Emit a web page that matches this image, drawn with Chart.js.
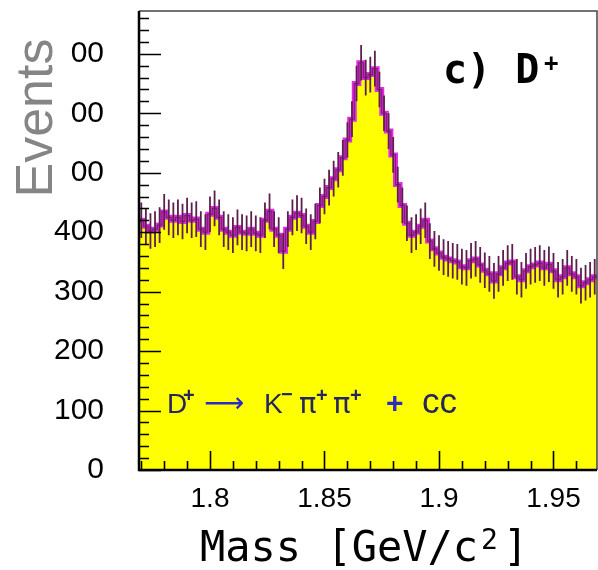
<!DOCTYPE html>
<html>
<head>
<meta charset="utf-8">
<script src="https://cdn.jsdelivr.net/npm/chart.js@4"></script>
<style>
  html, body { margin: 0; padding: 0; background: #fff; }
</style>
</head>
<body>
<canvas id="massChart" width="598" height="570"></canvas>
<script>
// histogram range and binning (GeV/c^2)
const MASS_MIN = 1.769;
const MASS_MAX = 1.969;
const BIN_WIDTH = 0.002;
const Y_MAX = 772;

// events per bin
const counts = [
  420, 410, 402, 405, 412, 434, 425, 420, 425, 418,
  428, 420, 422, 405, 400, 430, 440, 425, 405, 400,
  395, 408, 400, 398, 405, 398, 395, 420, 435, 405,
  395, 368, 405, 425, 432, 428, 410, 400, 418, 445,
  460, 475, 490, 505, 525, 555, 590, 650, 685, 660,
  665, 675, 640, 600, 570, 530, 480, 445, 415, 395,
  400, 410, 420, 385, 372, 365, 358, 355, 352, 350,
  342, 340, 352, 355, 345, 336, 330, 318, 330, 340,
  348, 350, 325, 320, 335, 342, 345, 348, 340, 346,
  335, 320, 325, 340, 330, 325, 310, 315, 320, 325
];
const ERROR_HALF = 30;

const xTicks = [1.8, 1.85, 1.9, 1.95];
const xTickLabels = ["1.8", "1.85", "1.9", "1.95"];
const yTicks = [0, 100, 200, 300, 400, 500, 600, 700];
const yTickLabels = ["0", "100", "200", "300", "400", "00", "00", "00"];

const centers = counts.map((_, i) => MASS_MIN + (i + 0.5) * BIN_WIDTH);
const stepPoints = [{ x: MASS_MIN, y: counts[0] }]
  .concat(counts.map((c, i) => ({ x: centers[i], y: c })))
  .concat([{ x: MASS_MAX, y: counts[counts.length - 1] }]);

// decay label pieces: text, x, baseline, font, colour
const DARK = "#26265e";
const BLUE = "#2a2ac8";
const decayLabel = [
  ["D", 167, 413, '28px "Liberation Sans"', DARK],
  ["+", 183, 402, 'bold 20px "Liberation Sans"', DARK],
  ["⟶", 204, 412, '28px "DejaVu Sans"', BLUE],
  ["K", 264, 413, '28px "Liberation Sans"', DARK],
  ["−", 281, 401, 'bold 20px "Liberation Sans"', DARK],
  ["π", 299, 413, '29px "DejaVu Sans"', DARK],
  ["+", 316, 402, 'bold 20px "Liberation Sans"', DARK],
  ["π", 333, 413, '29px "DejaVu Sans"', DARK],
  ["+", 350, 402, 'bold 20px "Liberation Sans"', DARK],
  ["+", 386, 413, 'bold 30px "Liberation Sans"', BLUE],
  ["cc", 422, 413, '35px "Liberation Sans"', DARK],
];

// inside ticks, frame, error bars and the labels on the plot
const decorations = {
  id: "decorations",
  afterDatasetsDraw(chart) {
    const { ctx, scales } = chart;
    ctx.save();
    ctx.strokeStyle = "#5c1f4e";
    ctx.lineWidth = 1.8;
    ctx.beginPath();
    counts.forEach((c, i) => {
      const px = scales.x.getPixelForValue(centers[i]);
      ctx.moveTo(px, scales.y.getPixelForValue(c + ERROR_HALF));
      ctx.lineTo(px, scales.y.getPixelForValue(c - ERROR_HALF));
    });
    ctx.stroke();
    ctx.restore();
  },
  afterDraw(chart) {
    const { ctx, chartArea: a, scales } = chart;
    ctx.save();
    ctx.strokeStyle = "#000";
    ctx.lineWidth = 1.6;
    ctx.beginPath();
    for (let v = 0; v <= Y_MAX; v += 20) {
      const py = Math.round(scales.y.getPixelForValue(v)) + 0.5;
      const len = v % 100 === 0 ? 22 : 10;
      ctx.moveTo(a.left, py);
      ctx.lineTo(a.left + len, py);
    }
    for (let k = 177; k <= 196; k++) {
      const px = Math.round(scales.x.getPixelForValue(k / 100)) + 0.5;
      const len = k % 5 === 0 ? 19 : 9;
      ctx.moveTo(px, a.bottom);
      ctx.lineTo(px, a.bottom - len);
    }
    ctx.stroke();

    ctx.strokeStyle = "#444";
    ctx.lineWidth = 1.5;
    ctx.beginPath();
    ctx.moveTo(a.left, a.top);
    ctx.lineTo(a.right, a.top);
    ctx.lineTo(a.right, a.bottom);
    ctx.stroke();
    ctx.strokeStyle = "#000";
    ctx.lineWidth = 2.5;
    ctx.beginPath();
    ctx.moveTo(a.left, a.top);
    ctx.lineTo(a.left, a.bottom);
    ctx.lineTo(a.right, a.bottom);
    ctx.stroke();

    ctx.fillStyle = "#858585";
    ctx.font = '52px "Liberation Sans"';
    ctx.translate(52, 118);
    ctx.rotate(-Math.PI / 2);
    ctx.textAlign = "center";
    ctx.textBaseline = "alphabetic";
    ctx.fillText("Events", 0, 0);
    ctx.setTransform(1, 0, 0, 1, 0, 0);

    ctx.fillStyle = "#000";
    ctx.textAlign = "left";
    ctx.font = 'bold 40px "DejaVu Sans Mono"';
    ctx.fillText("c) D", 443, 83);
    ctx.font = 'bold 24px "DejaVu Sans Mono"';
    ctx.fillText("+", 544, 71);

    ctx.font = '42px "DejaVu Sans Mono"';
    ctx.fillText("Mass [GeV/c", 200, 561);
    ctx.font = '28px "DejaVu Sans Mono"';
    ctx.fillText("2", 481, 549);
    ctx.font = '42px "DejaVu Sans Mono"';
    ctx.fillText("]", 503, 561);

    decayLabel.forEach(([t, x, y, f, c]) => {
      ctx.font = f;
      ctx.fillStyle = c;
      ctx.fillText(t, x, y);
    });
    ctx.restore();
  }
};

const ctx = document.getElementById("massChart").getContext("2d");
new Chart(ctx, {
  type: "line",
  data: {
    datasets: [
      {
        data: stepPoints,
        stepped: "middle",
        borderColor: "#7a2070",
        borderWidth: 1.2,
        fill: false,
        pointRadius: 0,
      },
      {
        data: stepPoints,
        stepped: "middle",
        borderColor: "#e629e6",
        borderWidth: 5,
        fill: false,
        pointRadius: 0,
      },
      {
        data: stepPoints,
        stepped: "middle",
        borderColor: "rgba(0,0,0,0)",
        backgroundColor: "#ffff00",
        borderWidth: 0,
        fill: "origin",
        pointRadius: 0,
      },
    ],
  },
  options: {
    responsive: false,
    animation: false,
    layout: { padding: { top: 11, right: 1, left: 0, bottom: 0 } },
    plugins: { legend: { display: false }, tooltip: { enabled: false } },
    scales: {
      x: {
        type: "linear",
        min: MASS_MIN,
        max: MASS_MAX,
        grid: { display: false },
        border: { display: false },
        afterBuildTicks: (s) => { s.ticks = xTicks.map((v) => ({ value: v })); },
        afterFit: (s) => { s.height = 100; s.paddingLeft = 0; s.paddingRight = 0; },
        ticks: {
          color: "#000",
          font: { family: "Liberation Sans", size: 28 },
          padding: 4,
          maxRotation: 0,
          autoSkip: false,
          callback: (v, i) => xTickLabels[i],
        },
      },
      y: {
        min: 0,
        max: Y_MAX,
        grid: { display: false },
        border: { display: false },
        afterBuildTicks: (s) => { s.ticks = yTicks.map((v) => ({ value: v })); },
        afterFit: (s) => { s.width = 139; s.paddingTop = 0; s.paddingBottom = 0; },
        ticks: {
          color: "#000",
          font: { family: "Liberation Sans", size: 30 },
          padding: 27,
          autoSkip: false,
          callback: (v, i) => yTickLabels[i],
        },
      },
    },
  },
  plugins: [decorations],
});
</script>
</body>
</html>
